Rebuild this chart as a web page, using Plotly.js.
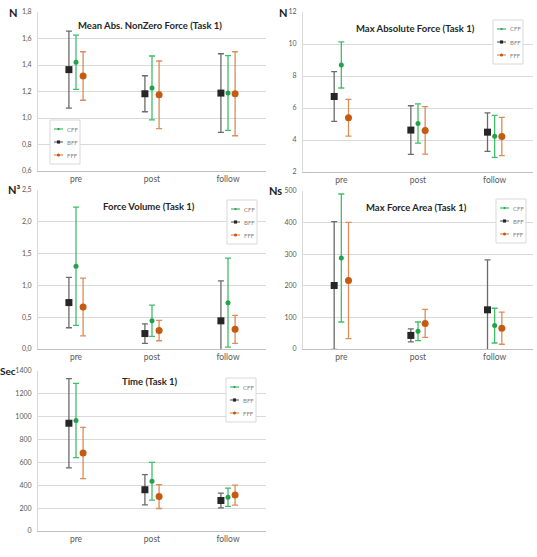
<!DOCTYPE html>
<html>
<head>
<meta charset="utf-8">
<script src="https://cdn.plot.ly/plotly-3.0.1.min.js"></script>
<style>
  html, body { margin: 0; padding: 0; background: #ffffff; }
  #chart { width: 537px; height: 557px; }
</style>
</head>
<body>
<div id="chart"></div>
<script>
// Measurement sessions and feedback groups
const groups = ['pre', 'post', 'follow'];
const seriesNames = ['BFF', 'CFF', 'FFF'];
const legendOrder = ['CFF', 'BFF', 'FFF'];

// Mean Abs. NonZero Force (N): means and SD
const nonZeroForceBFF = [1.365, 1.183, 1.188];
const nonZeroForceBFFsd = [0.291, 0.136, 0.297];
const nonZeroForceCFF = [1.421, 1.227, 1.189];
const nonZeroForceCFFsd = [0.205, 0.241, 0.282];
const nonZeroForceFFF = [1.317, 1.175, 1.183];
const nonZeroForceFFFsd = [0.183, 0.255, 0.317];

// Max Absolute Force (N)
const maxForceBFF = [6.72, 4.62, 4.49];
const maxForceBFFsd = [1.55, 1.52, 1.20];
const maxForceCFF = [8.69, 5.03, 4.23];
const maxForceCFFsd = [1.44, 1.23, 1.31];
const maxForceFFF = [5.39, 4.60, 4.22];
const maxForceFFFsd = [1.15, 1.48, 1.20];

// Force Volume (N³)
const forceVolumeBFF = [0.73, 0.243, 0.443];
const forceVolumeBFFsd = [0.396, 0.153, 0.627];
const forceVolumeCFF = [1.30, 0.445, 0.728];
const forceVolumeCFFsd = [0.93, 0.245, 0.70];
const forceVolumeFFF = [0.66, 0.29, 0.31];
const forceVolumeFFFsd = [0.453, 0.16, 0.22];

// Max Force Area (Ns)
const forceAreaBFF = [201, 43, 124];
const forceAreaBFFsd = [202, 20.5, 158];
const forceAreaCFF = [288, 56, 74];
const forceAreaCFFsd = [202.5, 29.5, 55];
const forceAreaFFF = [217, 81, 66];
const forceAreaFFFsd = [184, 44.5, 51];

// Time (Sec)
const timeBFF = [943, 361, 267];
const timeBFFsd = [390, 132.5, 64.5];
const timeCFF = [967, 435, 296];
const timeCFFsd = [325.5, 165, 80];
const timeFFF = [682, 301, 314];
const timeFFFsd = [224.5, 104, 87.5];

const W = 537, H = 557;
const px = v => v / W;
const py = v => 1 - v / H;

const seriesStyle = {
  BFF: { marker: '#262626', bar: '#6b6b6b', symbol: 'square', size: 7 },
  CFF: { marker: '#22a24c', bar: '#3fbf6a', symbol: 'circle', size: 5 },
  FFF: { marker: '#c55a11', bar: '#dc8d58', symbol: 'circle', size: 7 }
};

const FONT = 'Lato, "Liberation Sans", Arial, sans-serif';

// Subplot layout: plot box [left, top, right, bottom] in pixels
const panels = [
  { title: 'Mean Abs. NonZero Force (Task 1)', unit: 'N', unitSize: 11,
    means: [nonZeroForceBFF, nonZeroForceCFF, nonZeroForceFFF],
    sds: [nonZeroForceBFFsd, nonZeroForceCFFsd, nonZeroForceFFFsd],
    range: [0.6, 1.8], dtick: 0.2, fmt: '.1f',
    box: [38, 12, 266, 171], titleAt: [150, 25], unitAt: [19, 12], legendAt: [50, 120] },
  { title: 'Max Absolute Force (Task 1)', unit: 'N', unitSize: 11,
    means: [maxForceBFF, maxForceCFF, maxForceFFF],
    sds: [maxForceBFFsd, maxForceCFFsd, maxForceFFFsd],
    range: [2, 12], dtick: 2, fmt: 'd',
    box: [303, 12, 533, 172], titleAt: [415, 28], unitAt: [289, 12], legendAt: [493, 20] },
  { title: 'Force Volume (Task 1)', unit: 'N³', unitSize: 11,
    means: [forceVolumeBFF, forceVolumeCFF, forceVolumeFFF],
    sds: [forceVolumeBFFsd, forceVolumeCFFsd, forceVolumeFFFsd],
    range: [0, 2.5], dtick: 0.5, fmt: '.1f',
    box: [38, 190, 266, 349], titleAt: [149, 206], unitAt: [22, 190], legendAt: [227, 200] },
  { title: 'Max Force Area (Task 1)', unit: 'Ns', unitSize: 11,
    means: [forceAreaBFF, forceAreaCFF, forceAreaFFF],
    sds: [forceAreaBFFsd, forceAreaCFFsd, forceAreaFFFsd],
    range: [0, 500], dtick: 100, fmt: 'd',
    box: [303, 191, 533, 349], titleAt: [416, 207], unitAt: [284, 191], legendAt: [496, 199] },
  { title: 'Time (Task 1)', unit: 'Sec', unitSize: 10,
    means: [timeBFF, timeCFF, timeFFF],
    sds: [timeBFFsd, timeCFFsd, timeFFFsd],
    range: [0, 1400], dtick: 200, fmt: 'd',
    box: [38, 371, 266, 531], titleAt: [150, 382], unitAt: [17.5, 371], legendAt: [226, 378] }
];

const traces = [];
const layout = {
  width: W, height: H,
  margin: { l: 0, r: 0, t: 0, b: 0 },
  paper_bgcolor: '#ffffff', plot_bgcolor: '#ffffff',
  separators: ',.',
  showlegend: false,
  scattermode: 'group',
  scattergap: 0.72,
  font: { family: FONT, color: '#595959' },
  annotations: [], shapes: []
};

panels.forEach((p, i) => {
  const n = i === 0 ? '' : String(i + 1);
  const xa = 'x' + n, ya = 'y' + n;
  const [l, t, r, b] = p.box;

  seriesNames.forEach((s, k) => {
    const st = seriesStyle[s];
    traces.push({
      type: 'scatter', mode: 'markers', name: s,
      x: groups, y: p.means[k],
      xaxis: xa, yaxis: ya,
      offsetgroup: s,
      marker: { symbol: st.symbol, size: st.size, color: st.marker },
      error_y: { type: 'data', array: p.sds[k], visible: true,
                 color: st.bar, thickness: 1.3, width: 3 },
      cliponaxis: true,
      hoverinfo: 'x+y+name'
    });
  });

  layout['xaxis' + n] = {
    domain: [px(l), px(r)], anchor: ya,
    type: 'category', categoryarray: groups, range: [-0.5, 2.5],
    showgrid: false, zeroline: false,
    showline: true, linecolor: '#bfbfbf', linewidth: 1,
    ticks: '', tickfont: { size: 8.5, color: '#595959', family: FONT }
  };
  layout['yaxis' + n] = {
    domain: [py(b), py(t)], anchor: xa,
    range: p.range, dtick: p.dtick, tick0: p.range[0], tickformat: p.fmt,
    showgrid: true, gridcolor: '#d9d9d9', gridwidth: 1, zeroline: false,
    showline: true, linecolor: '#d9d9d9', linewidth: 1,
    ticks: 'outside', ticklen: 4, tickcolor: 'rgba(0,0,0,0)',
    tickfont: { size: 7, color: '#595959', family: FONT }
  };

  // chart title inside plot area
  layout.annotations.push({
    xref: 'paper', yref: 'paper', x: px(p.titleAt[0]), y: py(p.titleAt[1]),
    xanchor: 'center', yanchor: 'middle', showarrow: false,
    text: '<b>' + p.title + '</b>',
    font: { size: 9.5, color: '#262626', family: FONT }
  });
  // unit label next to the top tick
  layout.annotations.push({
    xref: 'paper', yref: 'paper', x: px(p.unitAt[0]), y: py(p.unitAt[1]),
    xanchor: 'right', yanchor: 'middle', showarrow: false,
    text: '<b>' + p.unit + '</b>',
    font: { size: p.unitSize, color: '#1a1a1a', family: FONT }
  });

  // compact legend box
  const [lx, ly] = p.legendAt;
  const lw = 30, lh = 44;
  layout.shapes.push({
    type: 'rect', xref: 'paper', yref: 'paper',
    x0: px(lx), x1: px(lx + lw), y0: py(ly + lh), y1: py(ly),
    line: { color: '#d9d9d9', width: 1 }, fillcolor: '#ffffff', layer: 'above'
  });
  legendOrder.forEach((s, k) => {
    const st = seriesStyle[s];
    const cy = ly + 9 + k * 13;
    layout.shapes.push({
      type: 'line', xref: 'paper', yref: 'paper',
      x0: px(lx + 4), x1: px(lx + 13), y0: py(cy), y1: py(cy),
      line: { color: st.bar, width: 1.2 }, layer: 'above'
    });
    const ms = st.size * 0.45;
    layout.shapes.push({
      type: st.symbol === 'square' ? 'rect' : 'circle', xref: 'paper', yref: 'paper',
      x0: px(lx + 8.5 - ms / 2), x1: px(lx + 8.5 + ms / 2),
      y0: py(cy + ms / 2), y1: py(cy - ms / 2),
      line: { width: 0 }, fillcolor: st.marker, layer: 'above'
    });
    layout.annotations.push({
      xref: 'paper', yref: 'paper', x: px(lx + 15), y: py(cy),
      xanchor: 'left', yanchor: 'middle', showarrow: false,
      text: s, font: { size: 6, color: '#7f7f7f', family: FONT }
    });
  });
});

Plotly.newPlot('chart', traces, layout, { displayModeBar: false, staticPlot: true });
</script>
</body>
</html>
